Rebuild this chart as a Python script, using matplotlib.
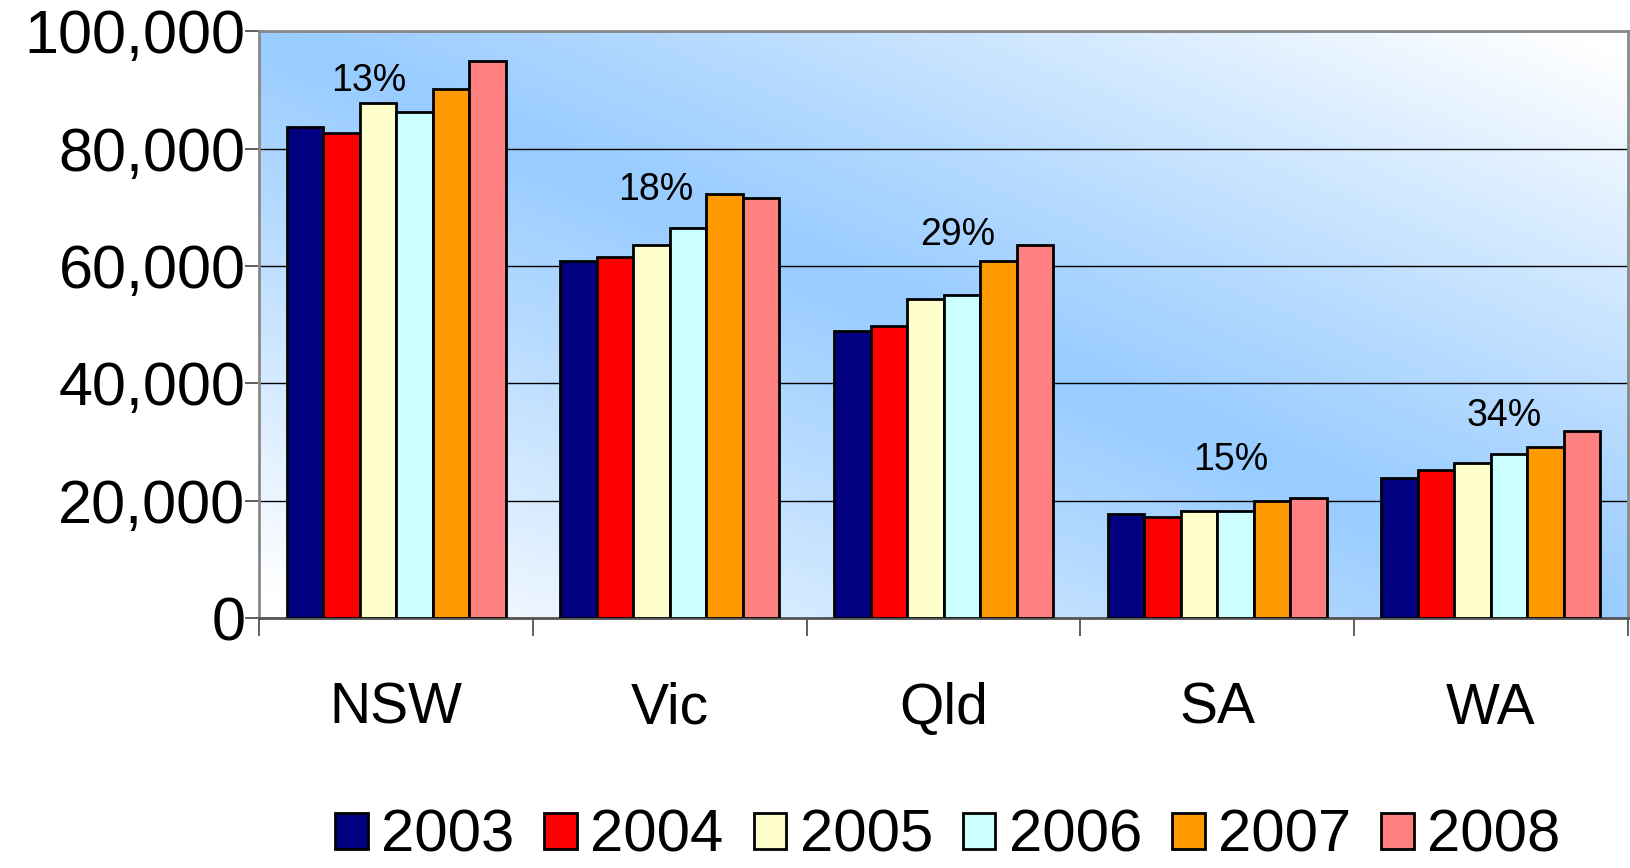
import numpy as np
import matplotlib
matplotlib.use("Agg")
import matplotlib.pyplot as plt
from matplotlib.colors import LinearSegmentedColormap

plt.rcParams['font.family'] = ['Liberation Sans', 'DejaVu Sans']

# data
states = ["NSW", "Vic", "Qld", "SA", "WA"]
years = ["2003", "2004", "2005", "2006", "2007", "2008"]
v2003 = [83700, 60800, 48900, 17700, 23800]
v2004 = [82600, 61500, 49800, 17200, 25200]
v2005 = [87800, 63500, 54300, 18300, 26400]
v2006 = [86300, 66500, 55100, 18300, 28000]
v2007 = [90200, 72300, 60800, 19900, 29100]
v2008 = [95000, 71500, 63500, 20400, 31800]
growth = ["13%", "18%", "29%", "15%", "34%"]
# where the growth labels sit (x shift in groups, y in data units)
growth_dx = [-0.10, -0.05, 0.05, 0.05, 0.05]
growth_y = [91500, 72900, 65200, 27000, 34400]

series = [v2003, v2004, v2005, v2006, v2007, v2008]
colors = ["#000080", "#FF0000", "#FFFFCC", "#CCFFFF", "#FF9900", "#FF8080"]

fig = plt.figure(figsize=(16.31, 8.68), dpi=100)
ax = fig.add_axes([0.159, 0.288, 0.839, 0.676])

# background gradient: blue along the diagonal, white towards two corners
gx, gy = np.meshgrid(np.linspace(0, 1, 400), np.linspace(1, 0, 200))
d = np.abs(gx + gy - 1.0)
bg = LinearSegmentedColormap.from_list("bg", ["#99CCFF", "#FFFFFF"])
ax.imshow(d ** 1.1, cmap=bg, vmin=0, vmax=0.95, extent=[0, 1, 0, 1],
          transform=ax.transAxes, aspect="auto", zorder=0)

x = np.arange(len(states))
w = 0.8 / 6
for i, s in enumerate(series):
    ax.bar(x - 0.4 + w * (i + 0.5), s, width=w, color=colors[i],
           edgecolor="black", linewidth=2, label=years[i], zorder=3)

for i, t in enumerate(growth):
    ax.text(x[i] + growth_dx[i], growth_y[i], t, ha="center", va="center",
            fontsize=27, zorder=4)

ax.set_xlim(-0.5, len(states) - 0.5)
ax.set_ylim(0, 100000)
ax.set_yticks(np.arange(0, 100001, 20000))
ax.set_yticklabels([f"{v:,}" for v in range(0, 100001, 20000)], fontsize=44)
ax.yaxis.grid(True, color="black", linewidth=1)
ax.set_axisbelow(True)
for gl in ax.get_ygridlines():
    gl.set_zorder(1)

ax.set_xticks(x)
ax.set_xticklabels(states, fontsize=41)
ax.set_xticks(np.arange(-0.5, len(states)), minor=True)
ax.tick_params(axis="x", which="major", length=0, pad=46)
ax.tick_params(axis="x", which="minor", length=13, width=1.2, color="#444444")
ax.tick_params(axis="y", length=10, width=1.2, color="#444444", pad=0)

for sp in ax.spines.values():
    sp.set_color("#888888")
    sp.set_linewidth(2)
ax.spines["bottom"].set_color("#555555")

ax.legend(loc="center", bbox_to_anchor=(0.503, -0.372), ncol=6, frameon=False,
          fontsize=43, handlelength=0.55, handleheight=0.55, handletextpad=0.22,
          columnspacing=0.5, borderpad=0.1)

fig.savefig("out.png", dpi=100)
